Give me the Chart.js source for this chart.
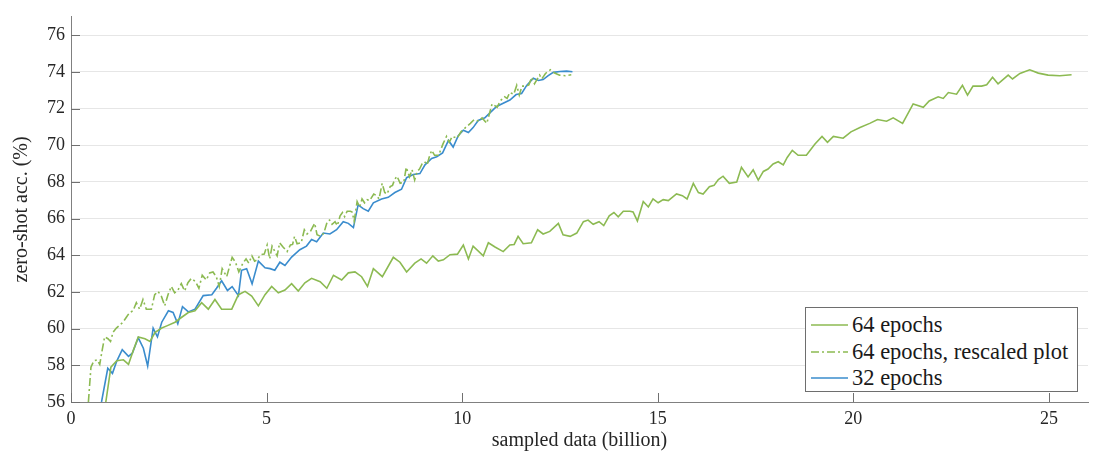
<!DOCTYPE html>
<html>
<head>
<meta charset="utf-8">
<script src="https://cdn.jsdelivr.net/npm/chart.js@4.4.1/dist/chart.umd.min.js"></script>
<style>
  html, body { margin: 0; padding: 0; background: #ffffff; }
  #wrap { position: relative; width: 1102px; height: 457px; overflow: hidden; }
  #c { position: absolute; left: 0; top: 0; }
  .lg-box { position: absolute; left: 805px; top: 307px; width: 273px; height: 85px; box-sizing: border-box; border: 1px solid #6e6e6e; background: #ffffff; }
  .lg-line { position: absolute; left: 810px; width: 40px; height: 6px; }
  .lg-text { position: absolute; left: 852px; height: 26px; line-height: 26px; font-family: "Liberation Serif", "Times New Roman", Times, serif; font-size: 22.5px; color: #1a1a1a; white-space: nowrap; }
</style>
</head>
<body>
<div id="wrap">
  <canvas id="c" width="1102" height="457"></canvas>
  <div class="lg-box"></div>
  <svg class="lg-line" style="top:322px" viewBox="0 0 40 6"><line x1="1" y1="3" x2="38" y2="3" stroke="#8cba52" stroke-width="1.6"/></svg>
  <div class="lg-text" style="top:312px">64 epochs</div>
  <svg class="lg-line" style="top:349px" viewBox="0 0 40 6"><line x1="1" y1="3" x2="38" y2="3" stroke="#8cba52" stroke-width="1.6" stroke-dasharray="8 3 2 3"/></svg>
  <div class="lg-text" style="top:339px">64 epochs, rescaled plot</div>
  <svg class="lg-line" style="top:375px" viewBox="0 0 40 6"><line x1="1" y1="3" x2="38" y2="3" stroke="#3a8ccd" stroke-width="1.6"/></svg>
  <div class="lg-text" style="top:365px">32 epochs</div>
</div>
<script>
// ---- data ----
const seriesNames = ['64 epochs', '64 epochs, rescaled plot', '32 epochs'];

// 64 epochs: sampled data (billion)
const epochs64X = [0.89,1.02,1.17,1.34,1.47,1.59,1.72,1.89,2.02,2.15,2.32,2.45,2.66,2.83,3.0,3.17,3.34,3.51,3.68,3.85,4.11,4.28,4.45,4.62,4.79,4.96,5.13,5.3,5.47,5.64,5.81,5.98,6.15,6.37,6.54,6.71,6.92,7.09,7.26,7.43,7.58,7.73,7.96,8.24,8.41,8.58,8.79,8.95,9.09,9.25,9.39,9.52,9.69,9.88,10.03,10.16,10.28,10.54,10.67,10.84,11.05,11.22,11.33,11.43,11.56,11.77,11.93,12.07,12.24,12.46,12.58,12.76,12.93,13.1,13.22,13.35,13.5,13.62,13.76,13.88,13.99,14.12,14.29,14.37,14.48,14.63,14.76,14.88,15.01,15.14,15.27,15.48,15.63,15.75,15.91,16.04,16.16,16.32,16.44,16.55,16.67,16.83,17.02,17.14,17.31,17.44,17.57,17.7,17.82,17.95,18.08,18.21,18.31,18.44,18.59,18.8,19.02,19.2,19.34,19.49,19.74,19.94,20.17,20.42,20.62,20.85,21.02,21.26,21.53,21.79,21.94,22.17,22.3,22.43,22.64,22.79,22.92,23.06,23.28,23.41,23.56,23.7,23.96,24.07,24.26,24.51,24.73,24.98,25.28,25.58];
// 64 epochs: zero-shot acc. (%)
const epochs64Y = [56.0,57.9,58.25,58.3,58.05,58.8,59.55,59.45,59.3,59.8,60.03,60.15,60.35,60.62,60.88,60.97,61.41,61.06,61.59,61.06,61.06,61.85,62.03,61.77,61.24,61.85,62.3,61.95,62.1,62.45,62.05,62.5,62.74,62.56,62.2,62.91,62.65,63.04,63.09,62.83,62.3,63.27,62.83,63.89,63.62,63.09,63.57,63.8,63.57,63.97,63.68,63.75,64.03,64.06,64.56,63.8,64.5,63.97,64.68,64.45,64.2,64.56,64.59,65.03,64.63,64.68,65.39,65.16,65.3,65.74,65.12,65.03,65.21,65.83,65.92,65.69,65.83,65.62,66.15,66.33,66.1,66.4,66.4,66.36,65.87,66.93,66.63,67.07,66.86,67.03,66.98,67.34,67.25,67.07,67.92,67.42,67.34,67.74,67.81,68.13,68.31,67.92,67.99,68.8,68.27,68.66,68.1,68.57,68.7,68.98,69.1,68.93,69.33,69.72,69.45,69.45,70.07,70.48,70.16,70.48,70.38,70.73,70.96,71.19,71.4,71.31,71.49,71.19,72.25,72.07,72.41,72.64,72.55,72.87,72.78,73.26,72.73,73.22,73.22,73.29,73.7,73.35,73.82,73.61,73.91,74.11,73.93,73.82,73.79,73.84];

// "rescaled plot": the same 64-epoch run drawn against half of its sampled data
const rescaleFactor = 0.5;
const rescaledX = epochs64X.map(v => v * rescaleFactor);
const rescaledY = epochs64Y;

// 32 epochs
const epochs32X = [0.78,0.94,1.06,1.17,1.31,1.47,1.57,1.72,1.85,1.96,2.1,2.21,2.32,2.49,2.61,2.73,2.85,3.0,3.17,3.38,3.6,3.72,3.85,4.0,4.12,4.28,4.36,4.49,4.63,4.79,4.96,5.09,5.21,5.34,5.47,5.64,5.85,6.02,6.15,6.28,6.45,6.62,6.79,6.96,7.09,7.22,7.34,7.47,7.6,7.73,7.94,8.11,8.28,8.45,8.58,8.75,8.92,9.05,9.22,9.35,9.5,9.65,9.77,9.9,10.03,10.16,10.28,10.41,10.58,10.71,10.88,11.05,11.22,11.38,11.52,11.65,11.82,11.95,12.07,12.2,12.33,12.5,12.67,12.82];
const epochs32Y = [56.0,57.84,57.56,58.23,58.85,58.49,58.67,59.5,58.93,57.96,60.03,59.55,60.35,60.97,60.88,60.26,61.2,60.91,61.06,61.8,61.85,62.2,62.61,62.08,62.29,61.8,63.18,63.27,62.44,63.68,63.32,63.27,63.18,63.62,63.44,63.9,64.3,64.5,64.86,64.74,65.21,65.16,65.39,65.83,65.74,65.51,66.75,66.54,66.4,66.86,67.07,67.16,67.42,67.6,68.23,68.4,68.45,68.93,69.28,69.37,69.58,70.26,69.9,70.52,70.82,70.69,70.96,71.35,71.49,71.76,72.11,72.29,72.46,72.76,72.82,73.26,73.65,73.53,73.58,73.79,73.97,74.02,74.04,74.0];

// axis ticks
const xTickValues = [0, 5, 10, 15, 20, 25];
const yTickValues = [56, 58, 60, 62, 64, 66, 68, 70, 72, 74, 76];

// ---- helpers ----
const toPoints = (xs, ys) => xs.map((x, i) => ({ x: x, y: ys[i] }));

const GREEN = '#8cba52';
const BLUE = '#3a8ccd';
const SERIF = '"Liberation Serif", "Times New Roman", Times, serif';
Chart.defaults.font.family = SERIF;

// inward tick marks (MATLAB style), drawn at the library's scale positions
const inwardTicks = {
  id: 'inwardTicks',
  afterDatasetsDraw(chart) {
    const { ctx, chartArea, scales } = chart;
    ctx.save();
    ctx.strokeStyle = '#707070';
    ctx.lineWidth = 1;
    ctx.beginPath();
    xTickValues.forEach(v => {
      const px = Math.round(scales.x.getPixelForValue(v)) + 0.5;
      ctx.moveTo(px, chartArea.bottom);
      ctx.lineTo(px, chartArea.bottom - 9);
    });
    yTickValues.forEach(v => {
      const py = Math.round(scales.y.getPixelForValue(v)) + 0.5;
      ctx.moveTo(chartArea.left, py);
      ctx.lineTo(chartArea.left + 9, py);
    });
    ctx.stroke();
    ctx.restore();
  }
};

new Chart(document.getElementById('c'), {
  type: 'line',
  data: {
    datasets: [
      { label: seriesNames[0], data: toPoints(epochs64X, epochs64Y), borderColor: GREEN, borderWidth: 1.6, pointRadius: 0, tension: 0, fill: false },
      { label: seriesNames[1], data: toPoints(rescaledX, rescaledY), borderColor: GREEN, borderWidth: 1.6, borderDash: [8, 3, 2, 3], pointRadius: 0, tension: 0, fill: false },
      { label: seriesNames[2], data: toPoints(epochs32X, epochs32Y), borderColor: BLUE, borderWidth: 1.6, pointRadius: 0, tension: 0, fill: false }
    ]
  },
  options: {
    responsive: false,
    animation: false,
    events: [],
    layout: { padding: { left: 0, right: 14, top: 6, bottom: 0 } },
    plugins: { legend: { display: false }, tooltip: { enabled: false } },
    scales: {
      x: {
        type: 'linear',
        min: 0,
        max: 26,
        afterBuildTicks(scale) { scale.ticks = xTickValues.map(v => ({ value: v })); },
        afterFit(scale) { scale.height = 55; },
        grid: { display: true, drawOnChartArea: false, drawTicks: false },
        border: { display: true, color: '#808080', width: 1 },
        ticks: { padding: 6, color: '#262626', font: { family: SERIF, size: 18 }, maxRotation: 0 },
        title: { display: true, text: 'sampled data (billion)', color: '#262626', font: { family: SERIF, size: 20 }, padding: 4 }
      },
      y: {
        type: 'linear',
        min: 56,
        max: 77,
        afterBuildTicks(scale) { scale.ticks = yTickValues.map(v => ({ value: v })); },
        afterFit(scale) { scale.width = 71; },
        grid: { color: '#e6e6e6', lineWidth: 1, drawTicks: false },
        border: { display: true, color: '#808080', width: 1 },
        ticks: { padding: 6, color: '#262626', font: { family: SERIF, size: 18 } },
        title: { display: true, text: 'zero-shot acc. (%)', color: '#262626', font: { family: SERIF, size: 20 }, padding: 10 }
      }
    }
  },
  plugins: [inwardTicks]
});
</script>
</body>
</html>
